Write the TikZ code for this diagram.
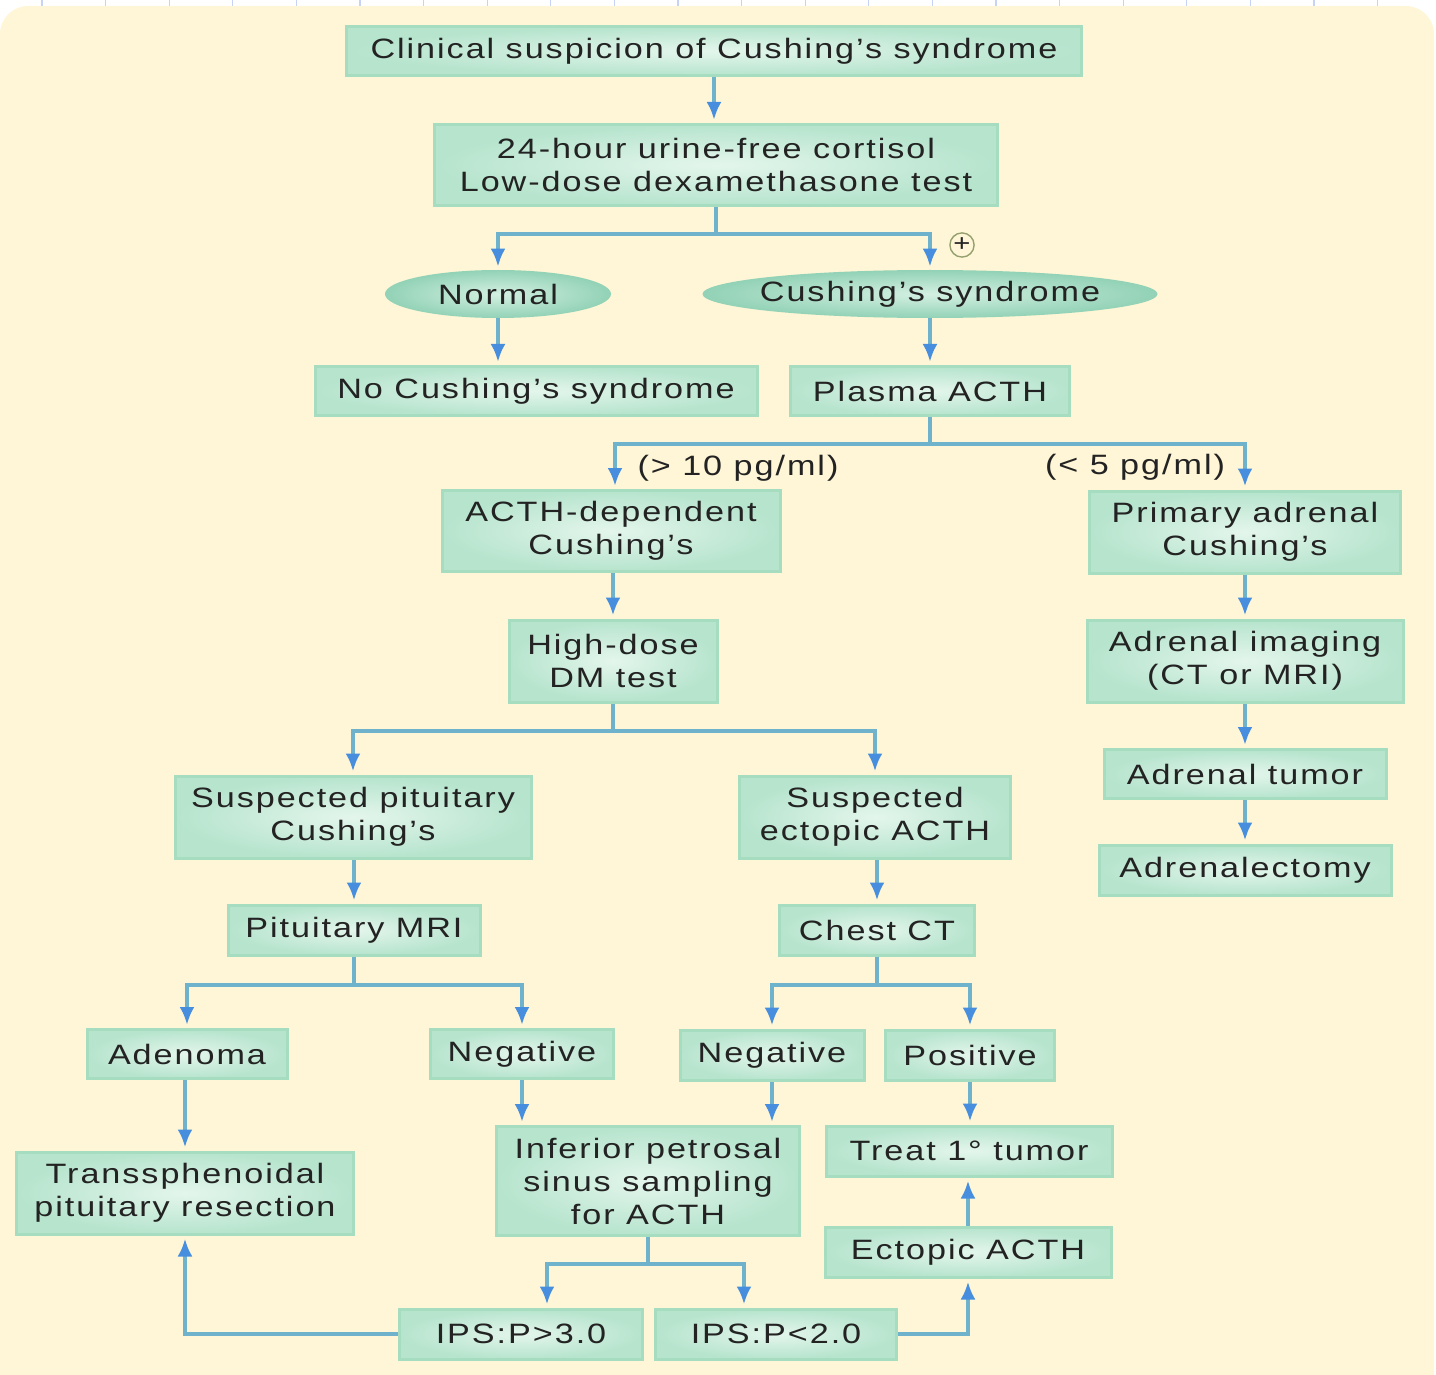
\documentclass[tikz,border=0pt]{standalone}
\usepackage{fontspec}
\setmainfont{Liberation Sans}[FakeStretch=1.22,LetterSpace=7]
\usepackage{xcolor}
\usepackage{tikz}
\usetikzlibrary{arrows.meta,positioning,shapes}

\definecolor{cream}{RGB}{254,246,214}
\definecolor{gridblue}{RGB}{200,210,245}
\definecolor{mintin}{RGB}{228,246,236}
\definecolor{mintout}{RGB}{182,228,205}
\definecolor{mintedge}{RGB}{166,220,192}
\definecolor{ovalin}{RGB}{212,240,226}
\definecolor{ovalout}{RGB}{146,210,182}
\definecolor{linkteal}{RGB}{110,178,204}
\definecolor{arrowblue}{RGB}{72,142,222}
\definecolor{inktext}{RGB}{35,35,35}

\tikzset{
  box/.style={draw=mintedge, line width=1.5pt, inner color=mintin, outer color=mintout,
    align=center, inner sep=0pt, text=inktext},
  oval/.style={ellipse, inner color=ovalin, outer color=ovalout, inner ysep=0pt, inner xsep=-20pt, text=inktext},
  link/.style={draw=linkteal, line width=2pt},
  arr/.style={link, -{Latex[length=9pt,width=7.5pt,color=arrowblue]}, shorten >=1.5pt},
  cut/.style={text=inktext, inner sep=0pt}
}

\begin{document}
\begin{tikzpicture}[x=0.5pt, y=-0.5pt, font=\fontsize{14}{16.5}\selectfont]
\useasboundingbox (0,0) rectangle (1436,1375);
\fill[cream] (0,1375) [rounded corners=14pt] -- (0,6) -- (1434,6) [sharp corners] -- (1434,1375) -- cycle;
\foreach \k in {0,...,21}
  \draw[gridblue, line width=0.6pt] (42+63.6*\k,0) -- +(0,6);

\node[box, minimum width=367.5pt, minimum height=24.5pt] (clin) at (714,51) {Clinical suspicion of Cushing’s syndrome};
\node[box, minimum width=281.5pt, minimum height=40.5pt] (urine) at (716,165) {24-hour urine-free cortisol\\Low-dose dexamethasone test};
\node[oval, minimum width=113pt, minimum height=24pt] (normal) at (498,294) {Normal};
\node[oval, minimum width=227.5pt, minimum height=24pt] (cush) at (930,294) {Cushing’s syndrome};
\node[box, minimum width=221pt, minimum height=24.5pt] (nocush) at (536,391) {No Cushing’s syndrome};
\node[box, minimum width=139.5pt, minimum height=24.5pt] (plasma) at (930,391) {Plasma ACTH};
\node[box, minimum width=169pt, minimum height=40.5pt] (acthdep) at (611,531) {ACTH-dependent\\Cushing’s};
\node[box, minimum width=155.5pt, minimum height=41pt] (primary) at (1245,532) {Primary adrenal\\Cushing’s};
\node[box, minimum width=104pt, minimum height=41pt] (highdose) at (613,661) {High-dose\\DM test};
\node[box, minimum width=158pt, minimum height=41pt] (imaging) at (1245,661) {Adrenal imaging\\(CT or MRI)};
\node[box, minimum width=141pt, minimum height=24.5pt] (tumor) at (1245,774) {Adrenal tumor};
\node[box, minimum width=146pt, minimum height=25pt] (adrenalect) at (1245,870) {Adrenalectomy};
\node[box, minimum width=178pt, minimum height=41pt] (suspit) at (353,817) {Suspected pituitary\\Cushing’s};
\node[box, minimum width=135.5pt, minimum height=41pt] (susect) at (875,817) {Suspected\\ectopic ACTH};
\node[box, minimum width=126pt, minimum height=25pt] (pitmri) at (354,930) {Pituitary MRI};
\node[box, minimum width=97.5pt, minimum height=25pt] (chest) at (877,930) {Chest CT};
\node[box, minimum width=100pt, minimum height=24.5pt] (adenoma) at (187,1054) {Adenoma};
\node[box, minimum width=91.5pt, minimum height=24.5pt] (negmri) at (522,1054) {Negative};
\node[box, minimum width=92pt, minimum height=25pt] (negct) at (772,1055) {Negative};
\node[box, minimum width=84.5pt, minimum height=25pt] (posct) at (970,1055) {Positive};
\node[box, minimum width=168.5pt, minimum height=41pt] (trans) at (185,1193) {Transsphenoidal\\pituitary resection};
\node[box, minimum width=151.5pt, minimum height=54.5pt] (ipss) at (648,1181) {Inferior petrosal\\sinus sampling\\for ACTH};
\node[box, minimum width=143pt, minimum height=25pt] (treat) at (969,1151) {Treat 1° tumor};
\node[box, minimum width=143pt, minimum height=25pt] (ectopic) at (968,1252) {Ectopic ACTH};
\node[box, minimum width=121.5pt, minimum height=25pt] (ipshigh) at (521,1334) {IPS:P>3.0};
\node[box, minimum width=120.5pt, minimum height=25pt] (ipslow) at (776,1334) {IPS:P<2.0};

\node[cut] (hilabel) at (738,468) {(> 10 pg/ml)};
\node[cut] (lolabel) at (1135,467) {(< 5 pg/ml)};
\node[circle, draw={rgb,255:red,150;green,160;blue,110}, line width=0.7pt, inner sep=0.4pt,
  minimum size=10pt, font=\fontsize{12}{12}\selectfont, text=inktext] (plus) at (962,245) {+};

\draw[arr] (clin.south) -- (clin.south |- urine.north);
\draw[arr] (urine.south) -- +(0,27) -| (normal.north);
\draw[arr] (urine.south) -- +(0,27) -| (cush.north);
\draw[arr] (normal.south) -- (normal.south |- nocush.north);
\draw[arr] (cush) -- (plasma);
\draw[arr] (plasma.south) -- +(0,27) -| ([xshift=2pt]acthdep.north);
\draw[arr] (plasma.south) -- +(0,27) -| (primary.north);
\draw[arr] (highdose.north |- acthdep.south) -- (highdose.north);
\draw[arr] (primary) -- (imaging);
\draw[arr] (imaging) -- (tumor);
\draw[arr] (tumor) -- (adrenalect);
\draw[arr] (highdose.south) -- +(0,27) -| (suspit.north);
\draw[arr] (highdose.south) -- +(0,27) -| (susect.north);
\draw[arr] (pitmri.north |- suspit.south) -- (pitmri.north);
\draw[arr] (chest.north |- susect.south) -- (chest.north);
\draw[arr] (pitmri.south) -- +(0,28) -| (adenoma.north);
\draw[arr] (pitmri.south) -- +(0,28) -| (negmri.north);
\draw[arr] (chest.south) -- +(0,28) -| (negct.north);
\draw[arr] (chest.south) -- +(0,28) -| (posct.north);
\draw[arr] (trans.north |- adenoma.south) -- (trans.north);
\draw[arr] (negmri.south) -- (negmri.south |- ipss.north);
\draw[arr] (negct.south) -- (negct.south |- ipss.north);
\draw[arr] (posct.south) -- (posct.south |- treat.north);
\draw[arr] (ipss.south) -- +(0,27) -| ([xshift=13pt]ipshigh.north);
\draw[arr] (ipss.south) -- +(0,27) -| ([xshift=-16pt]ipslow.north);
\draw[arr] (ipshigh.west) -| (trans.south);
\draw[arr] (ipslow.east) -| (ectopic.south);
\draw[arr] (ectopic.north) -- (ectopic.north |- treat.south);
\end{tikzpicture}
\end{document}
